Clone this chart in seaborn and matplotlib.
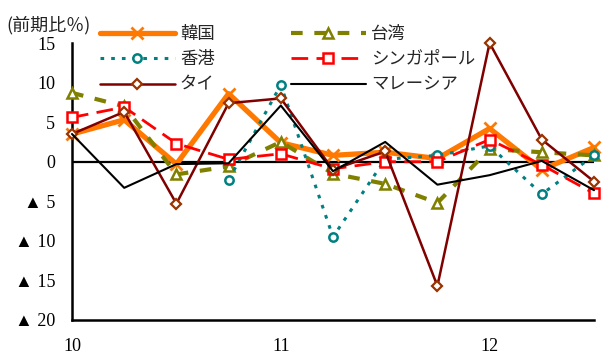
import numpy as np
import pandas as pd
import matplotlib
matplotlib.use("Agg")
import matplotlib.pyplot as plt
from matplotlib.font_manager import FontProperties
import seaborn as sns

# Quarterly GDP growth, quarter-on-quarter (%), 2010Q1 - 2012Q3
periods = ["10Q1", "10Q2", "10Q3", "10Q4", "11Q1", "11Q2", "11Q3", "11Q4",
           "12Q1", "12Q2", "12Q3"]
korea = [3.5, 5.3, -0.3, 8.6, 2.4, 0.8, 1.2, 0.4, 4.2, -1.0, 1.8]
taiwan = [8.7, 7.0, -1.6, -0.6, 2.5, -1.5, -2.8, -5.2, 1.6, 1.2, 0.8]
hongkong = [np.nan, np.nan, np.nan, -2.3, 9.7, -9.5, 0.3, 0.8, 2.0, -4.1, 0.8]
singapore = [5.6, 6.9, 2.3, 0.3, 1.0, -0.9, 0.0, 0.0, 2.8, -0.4, -4.0]
thailand = [3.5, 6.3, -5.3, 7.4, 8.0, -1.0, 1.3, -15.7, 15.0, 2.8, -2.5]
malaysia = [3.5, -3.3, -0.3, -0.2, 7.1, -1.2, 2.5, -2.9, -1.7, 0.1, -3.6]

series_names = ["韓国", "台湾", "香港", "シンガポール", "タイ", "マレーシア"]
year_labels = ["10", "11", "12"]
y_ticks = [-20, -15, -10, -5, 0, 5, 10, 15]
y_tick_labels = ["▲ 20", "▲ 15", "▲ 10", "▲ 5", "0", "5", "10", "15"]
unit_label = "(前期比％)"

sns.set_theme(style="white")
plt.rcParams["font.family"] = ["Liberation Serif", "DejaVu Sans"]
jp_font = ["Noto Sans CJK JP", "DejaVu Sans"]

W, H = 606, 356
fig = plt.figure(figsize=(W / 100, H / 100), dpi=100)
ax = fig.add_axes([72 / W, 1 - 320 / H, (594 - 72) / W, (320 - 43) / H])

df = pd.DataFrame({"period": periods, "韓国": korea, "台湾": taiwan,
                   "香港": hongkong, "シンガポール": singapore,
                   "タイ": thailand, "マレーシア": malaysia})
df["pos"] = np.arange(len(df))

styles = {
    "韓国": dict(color="#FF7800", lw=3.8, linestyle="-", marker="x", ms=8,
               mec="#FF7800", mfc="#FF7800", mew=2.0, zorder=2),
    "台湾": dict(color="#808000", lw=3.0, linestyle=(0, (2.8, 2.8)), marker="^",
               ms=6.5, mec="#808000", mfc="white", mew=1.8, zorder=3),
    "香港": dict(color="#008080", lw=2.2, linestyle=(0, (1.2, 2.3)), marker="o",
               ms=6, mec="#008080", mfc="white", mew=1.8, zorder=4),
    "シンガポール": dict(color="#FF0000", lw=2.0, linestyle=(0, (6, 3)), marker="s",
                   ms=6.5, mec="#FF0000", mfc="white", mew=1.8, zorder=5),
    "タイ": dict(color="#800000", lw=1.8, linestyle="-", marker="D", ms=5,
               mec="#993300", mfc="white", mew=1.6, zorder=6),
    "マレーシア": dict(color="black", lw=1.5, linestyle="-", marker=None,
                  zorder=7),
}

ax.axhline(0, color="black", lw=1.6, zorder=1.5)

for name in series_names:
    sub = df[["pos", name]].dropna()
    sns.lineplot(data=sub, x="pos", y=name, ax=ax, label=name,
                 estimator=None, errorbar=None, sort=False, clip_on=False,
                 **styles[name])

ax.set_xlim(0, 10)
ax.set_ylim(-20, 15)
ax.set_xlabel("")
ax.set_ylabel("")

xt = list(range(len(periods)))
xl = [""] * len(periods)
for i, lab in zip([0, 4, 8], year_labels):
    xl[i] = lab
ax.set_xticks(xt)
ax.set_xticklabels(xl)
ax.set_yticks(y_ticks)
ax.set_yticklabels(y_tick_labels)
ax.tick_params(axis="both", direction="in", length=5, width=1.6,
               colors="black", labelsize=13)
ax.tick_params(axis="y", pad=12)
ax.tick_params(axis="x", pad=13)

for side in ["top", "right"]:
    ax.spines[side].set_visible(False)
for side in ["left", "bottom"]:
    ax.spines[side].set_color("black")
    ax.spines[side].set_linewidth(1.8)
ax.grid(False)
ax.set_facecolor("white")

handles, labels = ax.get_legend_handles_labels()
hmap = dict(zip(labels, handles))
order = ["韓国", "香港", "タイ", "台湾", "シンガポール", "マレーシア"]
ax.legend([hmap[k] for k in order], order, ncol=2, frameon=False,
          prop=FontProperties(family=jp_font, size=12.5),
          loc="upper left", bbox_to_anchor=(100 / W, 1 - 25 / H),
          bbox_transform=fig.transFigure, borderpad=0, borderaxespad=0,
          handlelength=4.3, handletextpad=0.3, columnspacing=4.4,
          labelspacing=0.42)

fig.text(6 / W, 1 - 25 / H, unit_label, family=jp_font, fontsize=13,
         va="center", ha="left", color="#222222")

fig.savefig("out.png", dpi=100, facecolor="white")
